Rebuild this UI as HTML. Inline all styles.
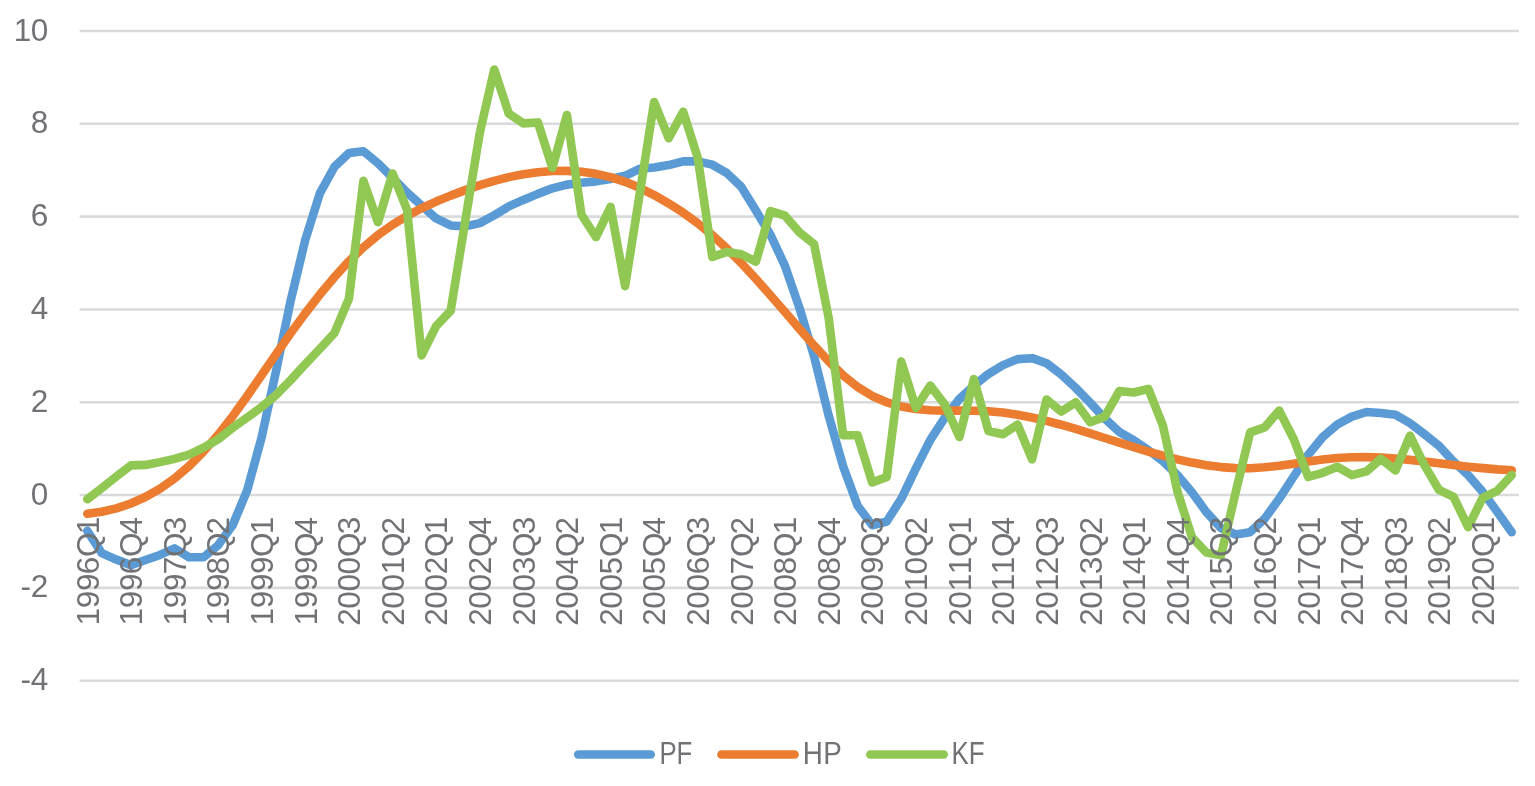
<!DOCTYPE html>
<html lang="en">
<head>
<meta charset="utf-8">
<title>PF, HP and KF chart</title>
<style>
html,body{margin:0;padding:0;background:#fff;}
body{width:1535px;height:786px;overflow:hidden;}
svg{display:block;}
text{font-family:"Liberation Sans",sans-serif;font-size:31.5px;fill:#707276;}
</style>
</head>
<body>
<svg width="1535" height="786" viewBox="0 0 1535 786">
<rect width="1535" height="786" fill="#ffffff"/>
<g stroke="#D9DADC" stroke-width="2.6" fill="none">
<line x1="79.6" y1="31.00" x2="1519.0" y2="31.00"/>
<line x1="79.6" y1="123.81" x2="1519.0" y2="123.81"/>
<line x1="79.6" y1="216.63" x2="1519.0" y2="216.63"/>
<line x1="79.6" y1="309.44" x2="1519.0" y2="309.44"/>
<line x1="79.6" y1="402.26" x2="1519.0" y2="402.26"/>
<line x1="79.6" y1="495.07" x2="1519.0" y2="495.07"/>
<line x1="79.6" y1="587.88" x2="1519.0" y2="587.88"/>
<line x1="79.6" y1="680.70" x2="1519.0" y2="680.70"/>
</g>
<g fill="none" stroke-width="8.60" stroke-linecap="round" stroke-linejoin="round">
<path stroke="#5B9BD5" d="M87.27 530.80 L101.80 553.08 L116.34 559.58 L130.87 565.14 L145.41 560.04 L159.94 554.94 L174.48 548.44 L189.02 557.26 L203.55 557.26 L218.09 545.19 L232.62 525.23 L247.16 490.43 L261.69 437.06 L276.23 370.24 L290.76 300.16 L305.30 239.83 L319.83 193.42 L334.37 166.97 L348.90 153.05 L363.44 151.19 L377.97 163.26 L392.51 177.65 L407.05 192.50 L421.58 205.49 L436.12 218.48 L450.65 225.45 L465.19 226.37 L479.72 223.12 L494.26 215.24 L508.79 206.42 L523.33 199.92 L537.86 193.89 L552.40 188.32 L566.93 184.61 L581.47 182.75 L596.01 181.36 L610.54 179.04 L625.08 175.79 L639.61 168.83 L654.15 167.44 L668.68 165.12 L683.22 161.40 L697.75 161.40 L712.29 164.65 L726.82 173.01 L741.36 186.93 L755.89 210.60 L770.43 234.73 L784.96 265.82 L799.50 308.05 L814.04 356.31 L828.57 415.25 L843.11 466.30 L857.64 505.74 L872.18 525.23 L886.71 521.52 L901.25 498.78 L915.78 468.62 L930.32 439.85 L944.85 417.57 L959.39 399.01 L973.92 385.55 L988.46 373.95 L1002.99 365.13 L1017.53 359.10 L1032.07 358.17 L1046.60 363.27 L1061.14 374.41 L1075.67 387.87 L1090.21 402.72 L1104.74 418.50 L1119.28 431.96 L1133.81 440.31 L1148.35 450.06 L1162.88 461.19 L1177.42 475.11 L1191.95 492.29 L1206.49 512.24 L1221.03 528.02 L1235.56 534.52 L1250.10 532.20 L1264.63 518.74 L1279.17 498.78 L1293.70 476.51 L1308.24 454.70 L1322.77 437.06 L1337.31 424.53 L1351.84 416.64 L1366.38 412.00 L1380.91 412.93 L1395.45 414.79 L1409.98 423.14 L1424.52 434.28 L1439.06 445.88 L1453.59 461.66 L1468.13 475.11 L1482.66 491.82 L1497.20 511.78 L1511.73 532.20"/>
<path stroke="#EB7C30" d="M87.27 513.73 L101.80 511.73 L116.34 508.39 L130.87 503.52 L145.41 497.02 L159.94 488.71 L174.48 478.46 L189.02 466.11 L203.55 451.54 L218.09 434.88 L232.62 416.32 L247.16 396.13 L261.69 375.06 L276.23 353.81 L290.76 333.11 L305.30 313.25 L319.83 294.55 L334.37 277.14 L348.90 261.27 L363.44 247.21 L377.97 235.10 L392.51 224.75 L407.05 215.89 L421.58 208.23 L436.12 201.59 L450.65 195.61 L465.19 190.13 L479.72 185.16 L494.26 180.85 L508.79 177.14 L523.33 174.26 L537.86 172.17 L552.40 171.01 L566.93 170.87 L581.47 171.75 L596.01 173.84 L610.54 177.18 L625.08 181.82 L639.61 187.81 L654.15 195.05 L668.68 203.40 L683.22 212.73 L697.75 223.22 L712.29 235.14 L726.82 248.51 L741.36 263.17 L755.89 278.86 L770.43 295.24 L784.96 311.99 L799.50 328.89 L814.04 345.50 L828.57 361.19 L843.11 375.29 L857.64 387.03 L872.18 395.94 L886.71 402.30 L901.25 406.48 L915.78 408.99 L930.32 410.24 L944.85 410.66 L959.39 410.66 L973.92 410.70 L988.46 411.21 L1002.99 412.56 L1017.53 414.69 L1032.07 417.48 L1046.60 420.87 L1061.14 424.72 L1075.67 428.94 L1090.21 433.40 L1104.74 437.99 L1119.28 442.63 L1133.81 447.18 L1148.35 451.59 L1162.88 455.67 L1177.42 459.38 L1191.95 462.59 L1206.49 465.18 L1221.03 467.09 L1235.56 468.11 L1250.10 468.20 L1264.63 467.32 L1279.17 465.74 L1293.70 463.65 L1308.24 461.52 L1322.77 459.52 L1337.31 457.99 L1351.84 457.25 L1366.38 457.16 L1380.91 457.62 L1395.45 458.59 L1409.98 459.89 L1424.52 461.47 L1439.06 463.19 L1453.59 464.95 L1468.13 466.67 L1482.66 468.15 L1497.20 469.36 L1511.73 470.20"/>
<path stroke="#91C853" d="M87.27 499.25 L101.80 488.11 L116.34 476.51 L130.87 465.37 L145.41 464.91 L159.94 462.12 L174.48 458.87 L189.02 454.70 L203.55 447.73 L218.09 439.38 L232.62 427.78 L247.16 417.57 L261.69 406.90 L276.23 394.83 L290.76 379.98 L305.30 364.20 L319.83 348.89 L334.37 333.11 L348.90 298.77 L363.44 180.89 L377.97 222.20 L392.51 173.47 L407.05 209.67 L421.58 355.38 L436.12 326.15 L450.65 310.83 L465.19 221.27 L479.72 133.10 L494.26 69.52 L508.79 113.60 L523.33 123.35 L537.86 122.42 L552.40 167.90 L566.93 115.00 L581.47 214.77 L596.01 237.05 L610.54 206.88 L625.08 286.24 L639.61 194.35 L654.15 102.00 L668.68 138.20 L683.22 111.75 L697.75 157.69 L712.29 257.00 L726.82 251.90 L741.36 254.22 L755.89 261.64 L770.43 211.06 L784.96 215.70 L799.50 232.41 L814.04 244.01 L828.57 317.33 L843.11 435.20 L857.64 435.20 L872.18 482.54 L886.71 476.97 L901.25 361.42 L915.78 407.82 L930.32 385.55 L944.85 404.58 L959.39 437.06 L973.92 379.05 L988.46 431.03 L1002.99 434.28 L1017.53 424.53 L1032.07 459.34 L1046.60 399.47 L1061.14 411.54 L1075.67 402.26 L1090.21 422.21 L1104.74 416.64 L1119.28 391.12 L1133.81 392.51 L1148.35 388.80 L1162.88 425.46 L1177.42 491.36 L1191.95 537.30 L1206.49 552.61 L1221.03 555.40 L1235.56 492.75 L1250.10 432.42 L1264.63 427.32 L1279.17 410.61 L1293.70 438.92 L1308.24 476.97 L1322.77 472.79 L1337.31 466.76 L1351.84 475.11 L1366.38 471.40 L1380.91 458.87 L1395.45 470.47 L1409.98 435.67 L1424.52 465.37 L1439.06 489.97 L1453.59 496.93 L1468.13 527.09 L1482.66 497.85 L1497.20 490.89 L1511.73 475.11"/>
</g>
<text x="13.81 30.68" y="40.60">10</text>
<text x="30.68" y="133.41">8</text>
<text x="30.74" y="226.23">6</text>
<text x="30.78" y="319.04">4</text>
<text x="30.72" y="411.86">2</text>
<text x="30.68" y="504.67">0</text>
<text x="20.46 30.72" y="597.48">-2</text>
<text x="20.46 30.78" y="690.30">-4</text>
<text transform="translate(98.57 625.60) rotate(-90)" x="0.08 17.45 34.58 51.26 68.61 91.34" y="0">1996Q1</text>
<text transform="translate(142.17 625.60) rotate(-90)" x="0.08 17.45 34.58 51.26 68.61 91.18" y="0">1996Q4</text>
<text transform="translate(185.78 625.60) rotate(-90)" x="0.08 17.45 34.58 51.45 68.61 91.31" y="0">1997Q3</text>
<text transform="translate(229.39 625.60) rotate(-90)" x="0.08 17.45 34.58 51.20 68.61 91.11" y="0">1998Q2</text>
<text transform="translate(272.99 625.60) rotate(-90)" x="0.08 17.45 34.58 51.71 68.61 91.34" y="0">1999Q1</text>
<text transform="translate(316.60 625.60) rotate(-90)" x="0.08 17.45 34.58 51.71 68.61 91.18" y="0">1999Q4</text>
<text transform="translate(360.20 625.60) rotate(-90)" x="-0.15 16.94 34.07 51.20 68.61 91.31" y="0">2000Q3</text>
<text transform="translate(403.81 625.60) rotate(-90)" x="-0.15 16.94 34.07 51.47 68.61 91.11" y="0">2001Q2</text>
<text transform="translate(447.42 625.60) rotate(-90)" x="-0.15 16.94 34.07 51.24 68.61 91.34" y="0">2002Q1</text>
<text transform="translate(491.02 625.60) rotate(-90)" x="-0.15 16.94 34.07 51.24 68.61 91.18" y="0">2002Q4</text>
<text transform="translate(534.63 625.60) rotate(-90)" x="-0.15 16.94 34.07 51.43 68.61 91.31" y="0">2003Q3</text>
<text transform="translate(578.23 625.60) rotate(-90)" x="-0.15 16.94 34.07 51.31 68.61 91.11" y="0">2004Q2</text>
<text transform="translate(621.84 625.60) rotate(-90)" x="-0.15 16.94 34.07 51.00 68.61 91.34" y="0">2005Q1</text>
<text transform="translate(665.45 625.60) rotate(-90)" x="-0.15 16.94 34.07 51.00 68.61 91.18" y="0">2005Q4</text>
<text transform="translate(709.05 625.60) rotate(-90)" x="-0.15 16.94 34.07 51.26 68.61 91.31" y="0">2006Q3</text>
<text transform="translate(752.66 625.60) rotate(-90)" x="-0.15 16.94 34.07 51.45 68.61 91.11" y="0">2007Q2</text>
<text transform="translate(796.26 625.60) rotate(-90)" x="-0.15 16.94 34.07 51.20 68.61 91.34" y="0">2008Q1</text>
<text transform="translate(839.87 625.60) rotate(-90)" x="-0.15 16.94 34.07 51.20 68.61 91.18" y="0">2008Q4</text>
<text transform="translate(883.48 625.60) rotate(-90)" x="-0.15 16.94 34.07 51.71 68.61 91.31" y="0">2009Q3</text>
<text transform="translate(927.08 625.60) rotate(-90)" x="-0.15 16.94 34.34 51.20 68.61 91.11" y="0">2010Q2</text>
<text transform="translate(970.69 625.60) rotate(-90)" x="-0.15 16.94 34.34 51.47 68.61 91.34" y="0">2011Q1</text>
<text transform="translate(1014.29 625.60) rotate(-90)" x="-0.15 16.94 34.34 51.47 68.61 91.18" y="0">2011Q4</text>
<text transform="translate(1057.90 625.60) rotate(-90)" x="-0.15 16.94 34.34 51.24 68.61 91.31" y="0">2012Q3</text>
<text transform="translate(1101.51 625.60) rotate(-90)" x="-0.15 16.94 34.34 51.43 68.61 91.11" y="0">2013Q2</text>
<text transform="translate(1145.11 625.60) rotate(-90)" x="-0.15 16.94 34.34 51.31 68.61 91.34" y="0">2014Q1</text>
<text transform="translate(1188.72 625.60) rotate(-90)" x="-0.15 16.94 34.34 51.31 68.61 91.18" y="0">2014Q4</text>
<text transform="translate(1232.33 625.60) rotate(-90)" x="-0.15 16.94 34.34 51.00 68.61 91.31" y="0">2015Q3</text>
<text transform="translate(1275.93 625.60) rotate(-90)" x="-0.15 16.94 34.34 51.26 68.61 91.11" y="0">2016Q2</text>
<text transform="translate(1319.54 625.60) rotate(-90)" x="-0.15 16.94 34.34 51.45 68.61 91.34" y="0">2017Q1</text>
<text transform="translate(1363.14 625.60) rotate(-90)" x="-0.15 16.94 34.34 51.45 68.61 91.18" y="0">2017Q4</text>
<text transform="translate(1406.75 625.60) rotate(-90)" x="-0.15 16.94 34.34 51.20 68.61 91.31" y="0">2018Q3</text>
<text transform="translate(1450.36 625.60) rotate(-90)" x="-0.15 16.94 34.34 51.71 68.61 91.11" y="0">2019Q2</text>
<text transform="translate(1493.96 625.60) rotate(-90)" x="-0.15 16.94 34.11 51.20 68.61 91.34" y="0">2020Q1</text>
<g fill="none" stroke-width="8.60" stroke-linecap="round">
<line stroke="#5B9BD5" x1="578.20" y1="754.50" x2="650.70" y2="754.50"/>
<line stroke="#EB7C30" x1="721.50" y1="754.50" x2="794.60" y2="754.50"/>
<line stroke="#91C853" x1="870.30" y1="754.50" x2="943.70" y2="754.50"/>
</g>
<text transform="translate(0 763.8) scale(0.8164 1)" x="807.85 828.70" y="0">PF</text>
<text transform="translate(0 763.8) scale(0.8852 1)" x="906.96 929.91" y="0">HP</text>
<text transform="translate(0 763.8) scale(0.8230 1)" x="1156.02 1177.16" y="0">KF</text>
</svg>
</body>
</html>
